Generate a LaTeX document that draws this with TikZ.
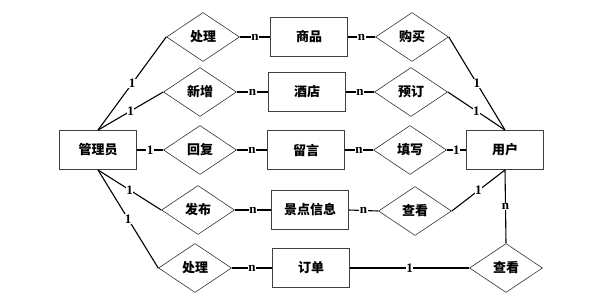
\documentclass[tikz,border=0pt]{standalone}
\usepackage{fontspec}
\setmainfont{Liberation Serif}
\newfontfamily\cjk{Noto Sans CJK SC}
\usetikzlibrary{shapes.geometric}
\begin{document}
\begin{tikzpicture}[x=1pt,y=-1pt,
  ent/.style={draw=black!75,line width=0.9pt,minimum width=77pt,minimum height=39pt,inner sep=0pt,font=\cjk\fontsize{13}{14}\selectfont\bfseries},
  rel/.style={draw=black!80,line width=0.6pt,diamond,aspect=1.49,minimum width=73pt,minimum height=49pt,inner sep=0pt,font=\cjk\fontsize{13}{14}\selectfont\bfseries},
  conn/.style={line width=1.1pt},
  card/.style={fill=white,inner sep=0.6pt,font=\fontsize{13}{13}\selectfont\bfseries}]
\useasboundingbox (0,0) rectangle (604,298);
% entities
\node[ent] (admin) at (98,150) {管理员};
\node[ent] (user) at (505,150) {用户};
\node[ent] (goods) at (309,37) {商品};
\node[ent] (hotel) at (307,92) {酒店};
\node[ent] (msg) at (306,150) {留言};
\node[ent] (spot) at (310,210) {景点信息};
\node[ent] (order) at (311,268) {订单};
% relations
\node[rel] (r1) at (203,37) {处理};
\node[rel] (r2) at (200,92) {新增};
\node[rel] (r3) at (200,150) {回复};
\node[rel] (r4) at (198,210) {发布};
\node[rel] (r5) at (195,268) {处理};
\node[rel] (u1) at (412,37) {购买};
\node[rel] (u2) at (411,92) {预订};
\node[rel] (u3) at (410,150) {填写};
\node[rel] (u4) at (415,211) {查看};
\node[rel] (u5) at (506,268) {查看};
% admin side
\draw[conn] (admin.north) -- node[card,pos=0.5]{1} (r1.west);
\draw[conn] (admin.north) -- node[card,pos=0.5]{1} (r2.west);
\draw[conn] (admin.east) -- node[card,pos=0.5]{1} (r3.west);
\draw[conn] (admin.south) -- node[card,pos=0.5]{1} (r4.west);
\draw[conn] (admin.south) -- node[card,pos=0.5]{1} (r5.west);
\draw[conn] (r1.east) -- node[card]{n} (goods.west);
\draw[conn] (r2.east) -- node[card]{n} (hotel.west);
\draw[conn] (r3.east) -- node[card]{n} (msg.west);
\draw[conn] (r4.east) -- node[card]{n} (spot.west);
\draw[conn] (r5.east) -- node[card]{n} (order.west);
% user side
\draw[conn] (goods.east) -- node[card]{n} (u1.west);
\draw[conn] (hotel.east) -- node[card]{n} (u2.west);
\draw[conn] (msg.east) -- node[card]{n} (u3.west);
\draw[conn] (spot.east) -- node[card]{n} (u4.west);
\draw[conn] (u1.east) -- node[card,pos=0.5]{1} (user.north);
\draw[conn] (u2.east) -- node[card,pos=0.5]{1} (user.north);
\draw[conn] (u3.east) -- node[card]{1} (user.west);
\draw[conn] (u4.east) -- node[card,pos=0.5]{1} (user.south);
\draw[conn] (user.south) -- node[card]{n} (u5.north);
\draw[conn] (order.east) -- node[card]{1} (u5.west);
\end{tikzpicture}
\end{document}
